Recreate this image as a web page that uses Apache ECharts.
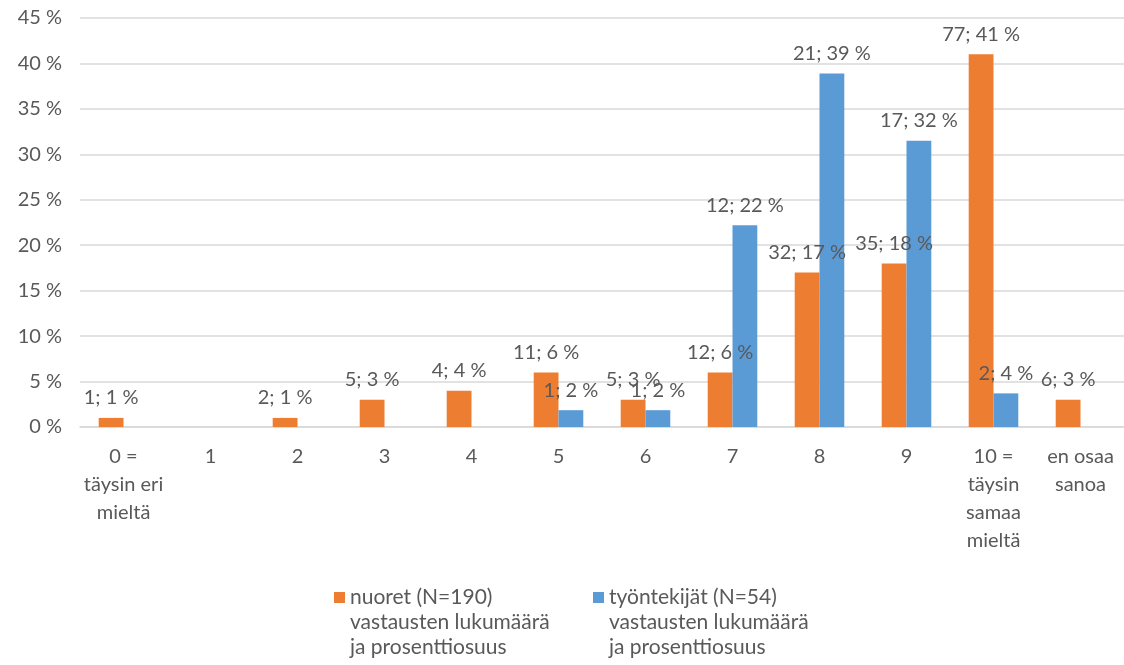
<!DOCTYPE html>
<html>
<head>
<meta charset="utf-8">
<script src="https://cdn.jsdelivr.net/npm/echarts@6/dist/echarts.min.js"></script>
<style>html,body{margin:0;padding:0;background:#fff;}#c{width:1124px;height:665px;}</style>
</head>
<body>
<div id="c"></div>
<script>
const categories = ['0 =\ntäysin eri\nmieltä', '1', '2', '3', '4', '5', '6', '7', '8', '9', '10 =\ntäysin\nsamaa\nmieltä', 'en osaa\nsanoa'];
const nuoretName = 'nuoret (N=190)\nvastausten lukumäärä\nja prosenttiosuus';
const tyontekijatName = 'työntekijät (N=54)\nvastausten lukumäärä\nja prosenttiosuus';
const nuoretPct = [1, null, 1, 3, 4, 6, 3, 6, 17, 18, 41, 3];
const nuoretCount = [1, null, 2, 5, 4, 11, 5, 12, 32, 35, 77, 6];
const tyontekijatPct = [null, null, null, null, null, 1.85, 1.85, 22.2, 38.9, 31.5, 3.7, null];
const tyontekijatCount = [null, null, null, null, null, 1, 1, 12, 21, 17, 2, null];
const yTicks = { min: 0, max: 45, interval: 5 };

const FONT = 'Lato';
const GREY = '#595959';
const chart = echarts.init(document.getElementById('c'));

function labelFor(counts) {
  return function (p) {
    const c = counts[p.dataIndex];
    if (p.value == null || c == null) return '';
    return c + '; ' + Math.round(p.value) + ' %';
  };
}

const legendText = { color: GREY, fontFamily: FONT, fontSize: 21, lineHeight: 25 };
const legendFmt = function (name) { return '\n\n' + name; };

chart.setOption({
  animation: false,
  textStyle: { fontFamily: FONT },
  grid: { left: 80, top: 18, width: 1051, height: 409 },
  legend: [
    { data: [nuoretName], left: 334, top: 535, padding: 0, itemWidth: 11, itemHeight: 11, itemGap: 0, textStyle: legendText, icon: 'rect', formatter: legendFmt },
    { data: [tyontekijatName], left: 593, top: 535, padding: 0, itemWidth: 11, itemHeight: 11, itemGap: 0, textStyle: legendText, icon: 'rect', formatter: legendFmt }
  ],
  xAxis: {
    type: 'category',
    data: categories,
    axisTick: { show: false },
    axisLine: { lineStyle: { color: '#d9d9d9', width: 1.5 } },
    axisLabel: { interval: 0, color: GREY, fontFamily: FONT, fontSize: 20, lineHeight: 28, margin: 16 }
  },
  yAxis: {
    type: 'value',
    min: yTicks.min, max: yTicks.max, interval: yTicks.interval,
    axisLine: { show: false },
    axisTick: { show: false },
    splitLine: { lineStyle: { color: '#d9d9d9', width: 1.5 } },
    axisLabel: { formatter: '{value} %', color: GREY, fontFamily: FONT, fontSize: 20, margin: 18 }
  },
  series: [
    {
      name: nuoretName, type: 'bar', data: nuoretPct,
      itemStyle: { color: '#ED7D31' },
      barGap: '0%', barCategoryGap: '43%',
      label: { show: true, position: 'top', distance: 10, color: GREY, fontFamily: FONT, fontSize: 20, formatter: labelFor(nuoretCount) }
    },
    {
      name: tyontekijatName, type: 'bar', data: tyontekijatPct,
      itemStyle: { color: '#5B9BD5' },
      barGap: '0%', barCategoryGap: '43%',
      label: { show: true, position: 'top', distance: 10, color: GREY, fontFamily: FONT, fontSize: 20, formatter: labelFor(tyontekijatCount) }
    }
  ]
});
</script>
</body>
</html>
